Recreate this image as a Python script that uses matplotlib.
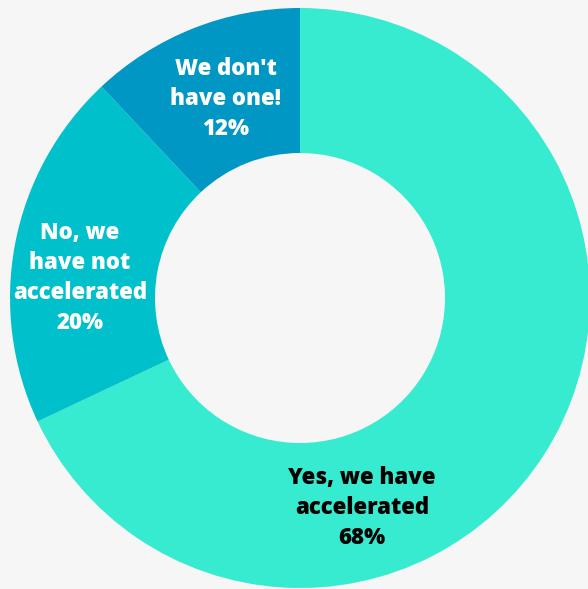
import matplotlib.pyplot as plt

labels = ["Yes, we have\naccelerated\n68%", "No, we\nhave not\naccelerated\n20%", "We don't\nhave one!\n12%"]
values = [68, 20, 12]
colors = ["#36EBCF", "#00C1CB", "#0097C4"]
text_colors = ["black", "white", "white"]

# label anchor points in pixels of the 588x589 picture
label_px = [(362, 508), (80, 278), (226, 99)]

CX, CY, R = 300, 298, 290  # donut centre and radius in pixels
W, H = 588, 589

plt.rcParams['font.family'] = ['Open Sans', 'DejaVu Sans']

fig = plt.figure(figsize=(W / 100, H / 100), dpi=100, facecolor="#F6F6F6")
ax = fig.add_axes([0, 0, 1, 1])
ax.set_facecolor("#F6F6F6")

ax.pie(values, colors=colors, startangle=90, counterclock=False,
       radius=1, wedgeprops=dict(width=0.5, linewidth=0))

for lab, (px, py), tc in zip(labels, label_px, text_colors):
    ax.text((px - CX) / R, (CY - py) / R, lab, ha="center", va="center",
            fontsize=16, fontweight=800, color=tc, linespacing=1.33)

ax.set_xlim(-CX / R, (W - CX) / R)
ax.set_ylim((CY - H) / R, CY / R)
ax.set_aspect("equal")
ax.axis("off")

fig.savefig("out.png", dpi=100, facecolor=fig.get_facecolor())
